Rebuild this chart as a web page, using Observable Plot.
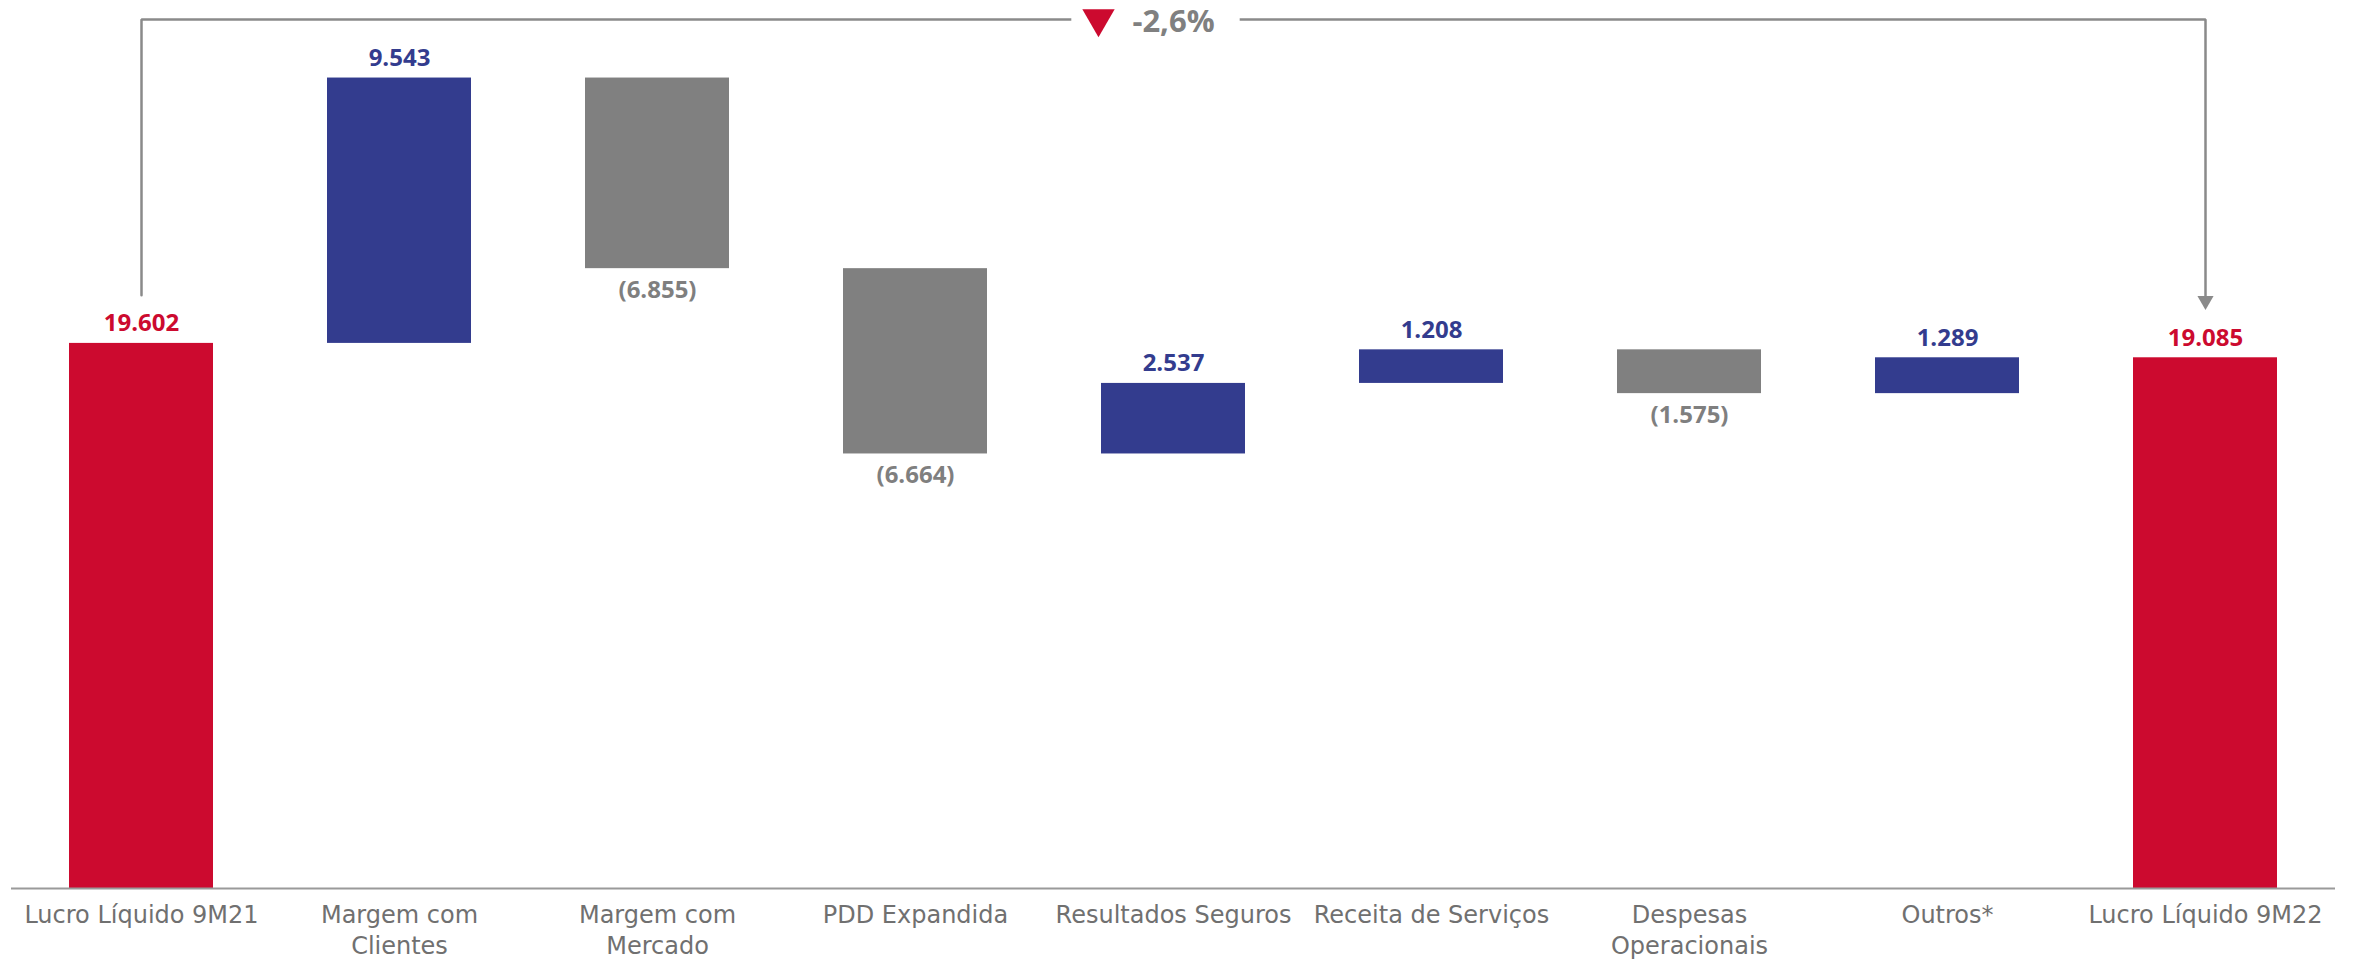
<!DOCTYPE html>
<html>
<head>
<meta charset="utf-8">
<script src="https://cdn.jsdelivr.net/npm/d3@7"></script>
<script src="https://cdn.jsdelivr.net/npm/@observablehq/plot@0.6"></script>
<style>
  html, body { margin: 0; padding: 0; background: #ffffff; }
  #chart svg { display: block; }
</style>
</head>
<body>
<div id="chart"></div>
<script>
// ---- data ----
const categories = [
  "Lucro Líquido 9M21", "Margem com Clientes", "Margem com Mercado", "PDD Expandida",
  "Resultados Seguros", "Receita de Serviços", "Despesas Operacionais", "Outros*", "Lucro Líquido 9M22"
];
const tickLabels = [
  "Lucro Líquido 9M21", "Margem com\nClientes", "Margem com\nMercado", "PDD Expandida",
  "Resultados Seguros", "Receita de Serviços", "Despesas\nOperacionais", "Outros*", "Lucro Líquido 9M22"
];
const values = [19602, 9543, -6855, -6664, 2537, 1208, -1575, 1289, 19085];
const kinds = ["total", "delta", "delta", "delta", "delta", "delta", "delta", "delta", "total"];

// ---- build waterfall rows ----
const fmt = (v) => String(Math.abs(v)).replace(/\B(?=(\d{3})+(?!\d))/g, ".");
let run = 0;
const rows = categories.map((c, i) => {
  const v = values[i];
  let y1, y2;
  if (kinds[i] === "total") { y1 = 0; y2 = v; run = v; }
  else { y1 = run; y2 = run + v; run = y2; }
  const type = kinds[i] === "total" ? "total" : (v >= 0 ? "pos" : "neg");
  return {
    cat: c, y1, y2, top: Math.max(y1, y2), bottom: Math.min(y1, y2), type,
    label: type === "neg" ? `(${fmt(v)})` : fmt(v)
  };
});
const colors = {total: "#cc0a2f", pos: "#333c8e", neg: "#808080"};
const labelColors = {total: "#cc0a2f", pos: "#333c8e", neg: "#7f7f7f"};

const first = rows[0], last = rows[rows.length - 1];
const pct = (last.y2 / first.y2 - 1) * 100;
const pctText = (pct < 0 ? "-" : "+") + Math.abs(pct).toFixed(1).replace(".", ",") + "%";

const yMax = 31250;       // bracket level = top of y domain
const gap = 1730;         // clearance between bar label and bracket ends
const bracketColor = "#8a8a8a";
const bracket = [
  {x: first.cat, y: first.y2 + gap},
  {x: first.cat, y: yMax},
  {x: last.cat, y: yMax},
  {x: last.cat, y: last.y2 + gap + 300}
];
const midCat = categories[4];

const chart = Plot.plot({
  width: 2359,
  height: 963,
  marginTop: 19,
  marginBottom: 75,
  marginLeft: 11,
  marginRight: 24,
  style: {fontFamily: "'Open Sans', sans-serif", color: "#707070", background: "#ffffff"},
  x: {domain: categories, paddingInner: 0.44, paddingOuter: 0.22, axis: null},
  y: {domain: [0, yMax], axis: null},
  marks: [
    Plot.barY(rows, {x: "cat", y1: "y1", y2: "y2", fill: (d) => colors[d.type]}),
    Plot.ruleY([0], {stroke: "#9a9a9a", strokeWidth: 2}),
    Plot.axisX({
      tickSize: 0, tickPadding: 13, fontSize: 24, fontFamily: "'DejaVu Sans', sans-serif",
      lineHeight: 1.28, label: null, tickFormat: (d) => tickLabels[categories.indexOf(d)]
    }),
    Plot.text(rows.filter((d) => d.type !== "neg"), {
      x: "cat", y: "top", text: "label", dy: -12, lineAnchor: "bottom",
      fill: (d) => labelColors[d.type], fontSize: 24, fontWeight: 700
    }),
    Plot.text(rows.filter((d) => d.type === "neg"), {
      x: "cat", y: "bottom", text: "label", dy: 12, lineAnchor: "top",
      fill: (d) => labelColors[d.type], fontSize: 24, fontWeight: 700
    }),
    Plot.line(bracket, {x: "x", y: "y", stroke: bracketColor, strokeWidth: 2.5, strokeLinejoin: "miter"}),
    Plot.dot([{x: last.cat, y: last.y2 + gap}], {
      x: "x", y: "y", symbol: "triangle", rotate: 180, r: 6, dy: -9, fill: bracketColor, stroke: null
    }),
    // white mask that opens the bracket line for the change label
    Plot.dot([{x: midCat, y: yMax}], {
      x: "x", y: "y", symbol: "square", r: 95, dx: -18, fill: "#ffffff", stroke: null
    }),
    Plot.text([{x: midCat, y: yMax}], {
      x: "x", y: "y", text: () => pctText, dy: 3, fontSize: 31, fontWeight: 700,
      fill: "#808080", lineAnchor: "middle"
    }),
    Plot.dot([{x: midCat, y: yMax}], {
      x: "x", y: "y", symbol: "triangle", rotate: 180, r: 12, dx: -75, dy: -1,
      fill: "#cc0a2f", stroke: null
    })
  ]
});
document.getElementById("chart").appendChild(chart);
</script>
</body>
</html>
